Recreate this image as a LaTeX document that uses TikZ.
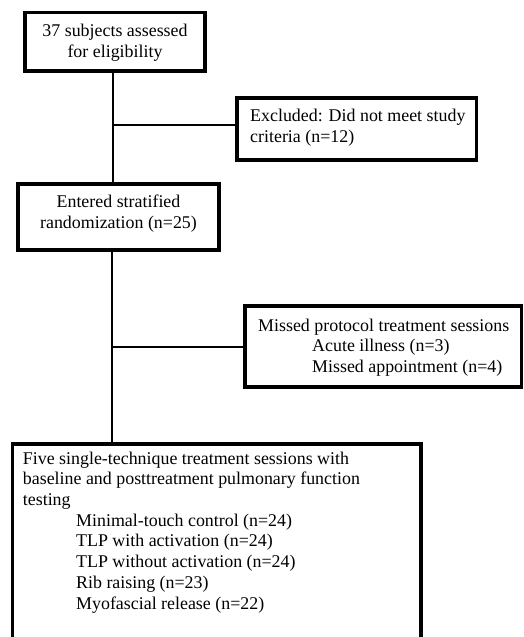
\documentclass[tikz,border=0pt]{standalone}
\usepackage{fontspec}
\setmainfont{Liberation Serif}
\begin{document}
\begin{tikzpicture}[x=1pt,y=-1pt,
  box/.style={draw=black, line width=3.8pt, rectangle, inner sep=0pt, fill=none},
  txt/.style={inner sep=0pt, font=\fontsize{17.9}{20.7}\selectfont},
  link/.style={draw=black, line width=2pt}]
\useasboundingbox (0,0) rectangle (524,637);
\clip (0,0) rectangle (524,637);
% boxes
\node[box, minimum width=180pt, minimum height=58.5pt] (b1) at (115,41.75) {};
\node[box, minimum width=239.5pt, minimum height=62pt] (ex) at (356.75,129) {};
\node[box, minimum width=201pt, minimum height=66pt] (b2) at (118.5,217) {};
\node[box, minimum width=276.5pt, minimum height=81pt] (mi) at (383.25,346.5) {};
\node[box, minimum width=408.2pt, minimum height=240pt] (b3) at (10.5,442) [anchor=north west] {};
% texts
\node[txt, anchor=north, align=center] (t1) at (115,22.2) {\strut 37 subjects assessed\\for eligibility};
\node[txt, anchor=north west, align=left] (tex) at (250,107.2) {\strut Excluded: Did not meet study\\criteria (n=12)};
\node[txt, anchor=north, align=center] (t2) at (118.5,192.8) {\strut Entered stratified\\randomization (n=25)};
\node[txt, anchor=north west, align=left] (tmi) at (258,316.5) {\strut Missed protocol treatment sessions\\\hspace*{54pt}Acute illness (n=3)\\\hspace*{54pt}Missed appointment (n=4)};
\node[txt, anchor=north west, align=left] (t3) at (22.7,449.5) {\strut Five single-technique treatment sessions with\\baseline and posttreatment pulmonary function\\testing\\\hspace*{53.3pt}Minimal-touch control (n=24)\\\hspace*{53.3pt}TLP with activation (n=24)\\\hspace*{53.3pt}TLP without activation (n=24)\\\hspace*{53.3pt}Rib raising (n=23)\\\hspace*{53.3pt}Myofascial release (n=22)};
% connectors
\coordinate (j1) at (113,125);
\coordinate (j2) at (111.5,347);
\draw[link] (b1.south -| j1) -- (b2.north -| j1);
\draw[link] (j1) -- (j1 -| ex.west);
\draw[link] (b2.south -| j2) -- (b3.north -| j2);
\draw[link] (j2) -- (j2 -| mi.west);
\end{tikzpicture}
\end{document}
